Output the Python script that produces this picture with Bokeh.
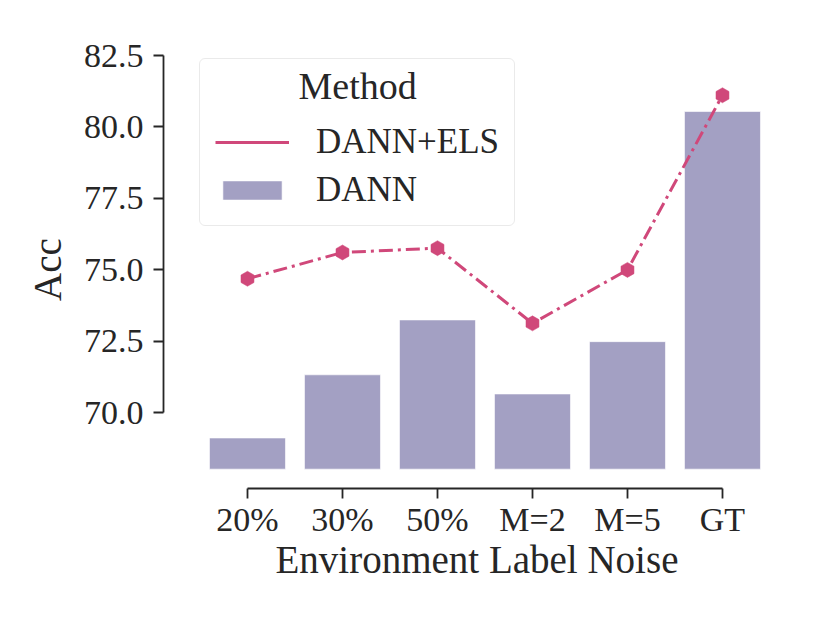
import math
from bokeh.plotting import figure
from bokeh.models import ColumnDataSource, FixedTicker, Legend, LegendItem, Range1d, Label
from bokeh.embed import file_html
from bokeh.resources import INLINE

categories = ["20%", "30%", "50%", "M=2", "M=5", "GT"]
dann = [69.12, 71.33, 73.25, 70.66, 72.49, 80.54]
dann_els = [74.69, 75.61, 75.76, 73.13, 75.00, 81.11]
y_ticks = [70.0, 72.5, 75.0, 77.5, 80.0, 82.5]
bar_base = 68.03

BAR_COLOR = "#a3a0c3"
LINE_COLOR = "#d0487a"
TEXT_COLOR = "#262626"
FONT = "Liberation Serif"

xs = list(range(len(categories)))
src = ColumnDataSource(dict(x=xs, dann=dann, els=dann_els))

p = figure(width=814, height=607, output_backend="svg", toolbar_location=None,
           x_range=Range1d(-0.884, 5.716), y_range=Range1d(67.353, 82.675),
           min_border_left=163, min_border_right=24, min_border_top=50, min_border_bottom=119)
p.outline_line_color = None
p.grid.visible = False
p.background_fill_color = "white"
p.border_fill_color = "white"

bars = p.vbar(x="x", top="dann", bottom=bar_base, width=0.8, source=src,
              fill_color=BAR_COLOR, line_color="white", line_alpha=0.6, line_width=1)
line = p.line(x="x", y="els", source=src, line_color=LINE_COLOR, line_width=3,
              line_dash="14 5 3 5")
p.scatter(x="x", y="els", source=src, marker="hex", size=15, angle=math.pi / 6,
          fill_color=LINE_COLOR, line_color=LINE_COLOR, line_width=0.5)
nan = float("nan")
dummy = p.line(x=[0, 1], y=[nan, nan], line_color=LINE_COLOR, line_width=3)

for ax in (p.xaxis[0], p.yaxis[0]):
    ax.axis_line_color = TEXT_COLOR
    ax.axis_line_width = 1.8
    ax.major_tick_line_color = TEXT_COLOR
    ax.major_tick_line_width = 1.8
    ax.major_tick_out = 10
    ax.major_tick_in = 0
    ax.minor_tick_line_color = None
    ax.major_label_text_font = FONT
    ax.major_label_text_color = TEXT_COLOR
    ax.major_label_text_font_size = "34px"
    ax.axis_label_text_font = FONT
    ax.axis_label_text_color = TEXT_COLOR
    ax.axis_label_text_font_size = "39px"
    ax.axis_label_text_font_style = "normal"

p.xaxis.ticker = FixedTicker(ticks=xs)
p.xaxis.major_label_overrides = {i: c for i, c in enumerate(categories)}
p.xaxis.bounds = (xs[0], xs[-1])
p.xaxis.axis_label = "Environment Label Noise"
p.xaxis.major_label_standoff = 2
p.xaxis.axis_label_standoff = -3

p.yaxis.ticker = FixedTicker(ticks=y_ticks)
p.yaxis.major_label_overrides = {t: f"{t:.1f}" for t in y_ticks}
p.yaxis.bounds = (y_ticks[0], y_ticks[-1])
p.yaxis.axis_label = "Acc"
p.yaxis.major_label_standoff = 10
p.yaxis.axis_label_standoff = 12

legend = Legend(items=[LegendItem(label="DANN+ELS", renderers=[dummy]),
                       LegendItem(label="DANN", renderers=[bars])],
                location=(36, 262), title=" ")
legend.level = "guide"
legend.title_text_font = FONT
legend.title_text_font_size = "38px"
legend.title_text_font_style = "normal"
legend.title_text_color = TEXT_COLOR
legend.title_standoff = 4
legend.label_text_font = FONT
legend.label_text_font_size = "35px"
legend.label_text_color = TEXT_COLOR
legend.glyph_width = 74
legend.glyph_height = 24
legend.label_standoff = 27
legend.label_height = 40
legend.spacing = 8
legend.padding = 15
legend.margin = 0
legend.border_line_color = "#d6d6d6"
legend.border_line_width = 1.5
legend.background_fill_color = "white"
legend.background_fill_alpha = 0.0
if "border_radius" in Legend.properties():
    legend.border_radius = 6
p.add_layout(legend, "center")

title_lbl = Label(x=1.16, y=81.43, text="Method", text_align="center",
                  text_baseline="alphabetic", text_font=FONT, text_font_size="38px",
                  text_color=TEXT_COLOR, level="overlay")
p.add_layout(title_lbl)

open("out.html", "w").write(file_html(p, INLINE))
